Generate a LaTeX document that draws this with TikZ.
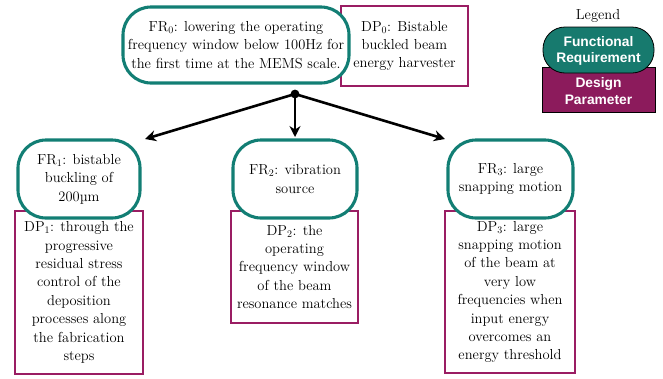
\documentclass[tikz,border=0pt]{standalone}
\usepackage{fontspec}
\newfontfamily\legfont{Liberation Sans}
\usetikzlibrary{arrows.meta}
\definecolor{frcol}{HTML}{127E74}
\definecolor{dpcol}{HTML}{9A1D63}
\definecolor{frfill}{HTML}{177A6E}
\definecolor{dpfill}{HTML}{8C1B5C}
\tikzset{
  frbox/.style={draw=frcol, line width=3.1pt, fill=white, rounded corners=28pt, align=center, inner sep=0pt, font=\fontsize{14.5}{18.4}\selectfont},
  dpbox/.style={draw=dpcol, line width=2.7pt, fill=white, align=center, inner sep=0pt, font=\fontsize{14.5}{18.4}\selectfont},
  arr/.style={line width=2.6pt, -{Stealth[length=11pt,width=11pt]}},
}
\begin{document}
\begin{tikzpicture}[x=1pt,y=-1pt]
\useasboundingbox (0,0) rectangle (663,378);
% top level
\node[dpbox, minimum width=127pt, minimum height=80pt] (dp0) at (404.5,46) {DP$_0$: Bistable\\buckled beam\\energy harvester};
\node[frbox, minimum width=226pt, minimum height=76pt] (fr0) at (236,45) {FR$_0$: lowering the operating\\frequency window below 100Hz for\\the first time at the MEMS scale.};
% second level DPs
\node[dpbox, minimum width=128pt, minimum height=163pt] (dp1) at (79,292.5) {DP$_1$: through the\\progressive\\residual stress\\control of the\\deposition\\processes along\\the fabrication\\steps};
\node[dpbox, minimum width=127pt, minimum height=112pt] (dp2) at (294.5,267) {DP$_2$: the\\operating\\frequency window\\of the beam\\resonance matches};
\node[dpbox, minimum width=130pt, minimum height=162pt] (dp3) at (510,292) {DP$_3$: large\\snapping motion\\of the beam at\\very low\\frequencies when\\input energy\\overcomes an\\energy threshold};
% second level FRs
\node[frbox, minimum width=122pt, minimum height=78pt] (fr1) at (79,179) {FR$_1$: bistable\\buckling of\\200µm};
\node[frbox, minimum width=124pt, minimum height=78pt] (fr2) at (295,179) {FR$_2$: vibration\\source};
\node[frbox, minimum width=125pt, minimum height=78pt] (fr3) at (510.5,179) {FR$_3$: large\\snapping motion};
% connectors
\coordinate (j) at (295,94);
\coordinate (e1) at (145,139);
\coordinate (e2) at (295,137);
\coordinate (e3) at (445,139);
\draw[arr] (j) -- (e1);
\draw[arr] (j) -- (e2);
\draw[arr] (j) -- (e3);
\fill (j) circle (4.4pt);
% legend
\node[font=\fontsize{14.5}{16}\selectfont] (legt) at (598,16) {Legend};
\node[draw=black, line width=0.8pt, fill=dpfill, minimum width=113pt, minimum height=45pt, inner sep=0pt] (legdp) at (598.5,89.5) {};
\node[draw=black, line width=0.8pt, fill=frfill, rounded corners=22pt, minimum width=111pt, minimum height=46pt, inner sep=0pt] (legfr) at (598.5,50) {};
\node[text=white, align=center, font=\legfont\bfseries\fontsize{13.8}{16.5}\selectfont] (legfrt) at (598.5,51) {Functional\\Requirement};
\node[text=white, align=center, font=\legfont\bfseries\fontsize{13.8}{16.5}\selectfont] (legdpt) at (598.5,91) {Design\\Parameter};
\end{tikzpicture}
\end{document}
